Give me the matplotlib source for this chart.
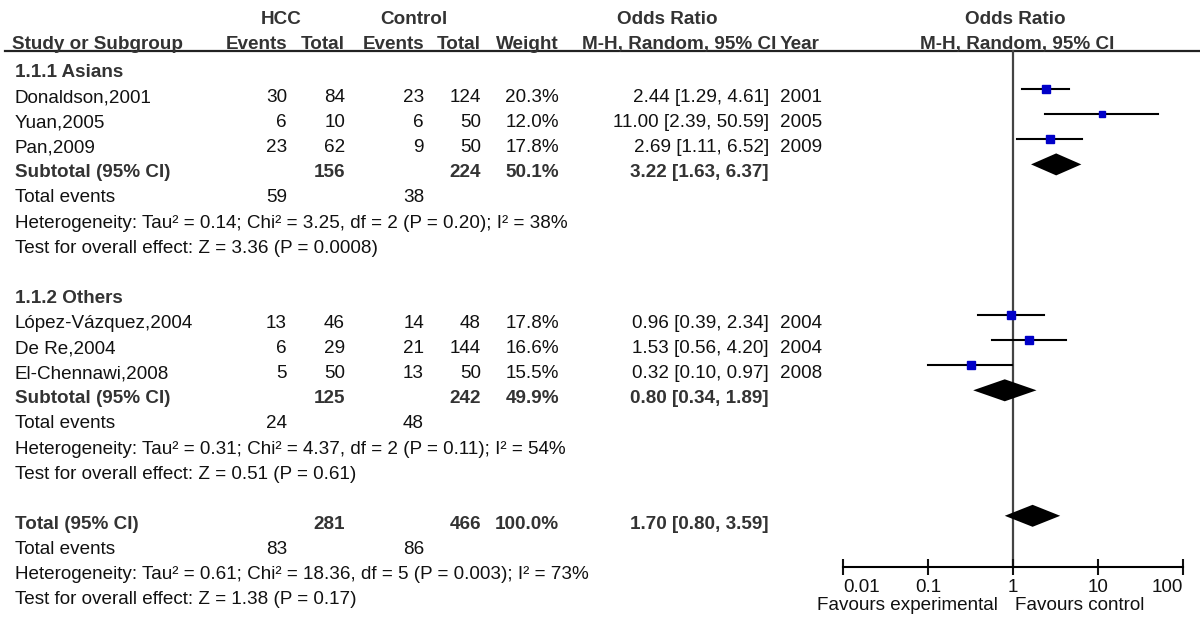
import numpy as np
import matplotlib
matplotlib.use("Agg")
import matplotlib.pyplot as plt

plt.rcParams['font.family'] = ['Liberation Sans', 'DejaVu Sans']

# study level data
names = ["Donaldson,2001", "Yuan,2005", "Pan,2009",
         "López-Vázquez,2004", "De Re,2004", "El-Chennawi,2008"]
group = [0, 0, 0, 1, 1, 1]
hcc_events = [30, 6, 23, 13, 6, 5]
hcc_total = [84, 10, 62, 46, 29, 50]
ctrl_events = [23, 6, 9, 14, 21, 13]
ctrl_total = [124, 50, 50, 48, 144, 50]
weight = [20.3, 12.0, 17.8, 17.8, 16.6, 15.5]
odds = [2.44, 11.00, 2.69, 0.96, 1.53, 0.32]
ci_low = [1.29, 2.39, 1.11, 0.39, 0.56, 0.10]
ci_high = [4.61, 50.59, 6.52, 2.34, 4.20, 0.97]
years = [2001, 2005, 2009, 2004, 2004, 2008]

# subgroup data
subgroups = ["1.1.1 Asians", "1.1.2 Others"]
sub_hcc_total = [156, 125]
sub_ctrl_total = [224, 242]
sub_weight = [50.1, 49.9]
sub_or = [3.22, 0.80]
sub_low = [1.63, 0.34]
sub_high = [6.37, 1.89]
sub_hcc_events = [59, 24]
sub_ctrl_events = [38, 48]
sub_het = ["Heterogeneity: Tau² = 0.14; Chi² = 3.25, df = 2 (P = 0.20); I² = 38%",
           "Heterogeneity: Tau² = 0.31; Chi² = 4.37, df = 2 (P = 0.11); I² = 54%"]
sub_test = ["Test for overall effect: Z = 3.36 (P = 0.0008)",
            "Test for overall effect: Z = 0.51 (P = 0.61)"]

# overall
tot_hcc_total = 281
tot_ctrl_total = 466
tot_weight = 100.0
tot_or, tot_low, tot_high = 1.70, 0.80, 3.59
tot_hcc_events = 83
tot_ctrl_events = 86
tot_het = "Heterogeneity: Tau² = 0.61; Chi² = 18.36, df = 5 (P = 0.003); I² = 73%"
tot_test = "Test for overall effect: Z = 1.38 (P = 0.17)"

tick_vals = [0.01, 0.1, 1, 10, 100]
tick_labels = ["0.01", "0.1", "1", "10", "100"]

W, H = 1200, 629
fig = plt.figure(figsize=(12, 6.29), dpi=100)
ax = fig.add_axes([0, 0, 1, 1])
ax.set_xlim(0, W)
ax.set_ylim(H, 0)
ax.axis('off')

fax = fig.add_axes([843 / W, 0, 340 / W, 1])
fax.set_xscale('log')
fax.set_xlim(0.01, 100)
fax.set_ylim(H, 0)
fax.patch.set_alpha(0)

FS = 13.6
black = '#111111'
bold_c = '#333333'
blue = '#0000c8'

# column positions (px)
x_name = 15
x_hev, x_htot, x_cev, x_ctot, x_w, x_or, x_year = 287, 345, 424, 481, 559, 769, 780

def row_y(i):
    return 70 + 25.1 * i

def txt(x, y, s, ha='left', bold=False):
    ax.text(x, y + 7, s, ha=ha, va='baseline', fontsize=FS,
            color=bold_c if bold else black,
            fontweight='bold' if bold else 'normal')

# headers
txt(281, 17, "HCC", ha='center', bold=True)
txt(414, 17, "Control", ha='center', bold=True)
txt(667, 17, "Odds Ratio", ha='center', bold=True)
txt(1015, 17, "Odds Ratio", ha='center', bold=True)
hy = 42
txt(12, hy, "Study or Subgroup", bold=True)
txt(x_hev, hy, "Events", ha='right', bold=True)
txt(x_htot, hy, "Total", ha='right', bold=True)
txt(x_cev, hy, "Events", ha='right', bold=True)
txt(x_ctot, hy, "Total", ha='right', bold=True)
txt(x_w, hy, "Weight", ha='right', bold=True)
txt(776, hy, "M-H, Random, 95% CI", ha='right', bold=True)
txt(x_year, hy, "Year", bold=True)
txt(1017, hy, "M-H, Random, 95% CI", ha='center', bold=True)
ax.plot([5, 1200], [51, 51], color='#222222', lw=1.6)

row = 0
for g in range(2):
    txt(x_name, row_y(row), subgroups[g], bold=True)
    row += 1
    for k in [i for i in range(len(names)) if group[i] == g]:
        y = row_y(row)
        txt(x_name, y, names[k])
        txt(x_hev, y, str(hcc_events[k]), ha='right')
        txt(x_htot, y, str(hcc_total[k]), ha='right')
        txt(x_cev, y, str(ctrl_events[k]), ha='right')
        txt(x_ctot, y, str(ctrl_total[k]), ha='right')
        txt(x_w, y, f"{weight[k]:.1f}%", ha='right')
        txt(x_or, y, f"{odds[k]:.2f} [{ci_low[k]:.2f}, {ci_high[k]:.2f}]", ha='right')
        txt(x_year, y, str(years[k]))
        ym = y - 6
        fax.plot([ci_low[k], ci_high[k]], [ym, ym], color='black', lw=1.5)
        side = 1.9 * np.sqrt(weight[k]) * 0.72
        fax.plot([odds[k]], [ym], marker='s', ms=side, color=blue, ls='none')
        row += 1
    y = row_y(row)
    txt(x_name, y, "Subtotal (95% CI)", bold=True)
    txt(x_htot, y, str(sub_hcc_total[g]), ha='right', bold=True)
    txt(x_ctot, y, str(sub_ctrl_total[g]), ha='right', bold=True)
    txt(x_w, y, f"{sub_weight[g]:.1f}%", ha='right', bold=True)
    txt(x_or, y, f"{sub_or[g]:.2f} [{sub_low[g]:.2f}, {sub_high[g]:.2f}]", ha='right', bold=True)
    ym = y - 6
    fax.fill([sub_low[g], sub_or[g], sub_high[g], sub_or[g]],
             [ym, ym - 11, ym, ym + 11], color='black', lw=0)
    row += 1
    y = row_y(row)
    txt(x_name, y, "Total events")
    txt(x_hev, y, str(sub_hcc_events[g]), ha='right')
    txt(x_cev, y, str(sub_ctrl_events[g]), ha='right')
    row += 1
    txt(x_name, row_y(row), sub_het[g])
    row += 1
    txt(x_name, row_y(row), sub_test[g])
    row += 2

y = row_y(row)
txt(x_name, y, "Total (95% CI)", bold=True)
txt(x_htot, y, str(tot_hcc_total), ha='right', bold=True)
txt(x_ctot, y, str(tot_ctrl_total), ha='right', bold=True)
txt(x_w, y, f"{tot_weight:.1f}%", ha='right', bold=True)
txt(x_or, y, f"{tot_or:.2f} [{tot_low:.2f}, {tot_high:.2f}]", ha='right', bold=True)
ym = y - 6
fax.fill([tot_low, tot_or, tot_high, tot_or], [ym, ym - 11, ym, ym + 11],
         color='black', lw=0)
row += 1
y = row_y(row)
txt(x_name, y, "Total events")
txt(x_hev, y, str(tot_hcc_events), ha='right')
txt(x_cev, y, str(tot_ctrl_events), ha='right')
row += 1
txt(x_name, row_y(row), tot_het)
row += 1
txt(x_name, row_y(row), tot_test)

# forest axis
axis_y = 567
fax.plot([1, 1], [51, axis_y], color='#444444', lw=1.6, zorder=0)
for s in ['top', 'left', 'right']:
    fax.spines[s].set_visible(False)
fax.spines['bottom'].set_position(('data', axis_y))
fax.spines['bottom'].set_linewidth(1.5)
fax.set_yticks([])
fax.set_xticks(tick_vals)
fax.set_xticklabels(tick_labels)
fax.xaxis.set_minor_locator(matplotlib.ticker.NullLocator())
fax.tick_params(axis='x', direction='inout', length=12, width=1.5,
                labelsize=FS, pad=3, colors=black)
lbls = fax.get_xticklabels()
lbls[0].set_horizontalalignment('left')
lbls[-1].set_horizontalalignment('right')
fax.annotate("Favours experimental", xy=(1, 605), xytext=(-15, 0),
             textcoords='offset pixels', ha='right', va='center',
             fontsize=FS, color=black)
fax.annotate("Favours control", xy=(1, 605), xytext=(2, 0),
             textcoords='offset pixels', ha='left', va='center',
             fontsize=FS, color=black)

fig.savefig("out.png", dpi=100)
